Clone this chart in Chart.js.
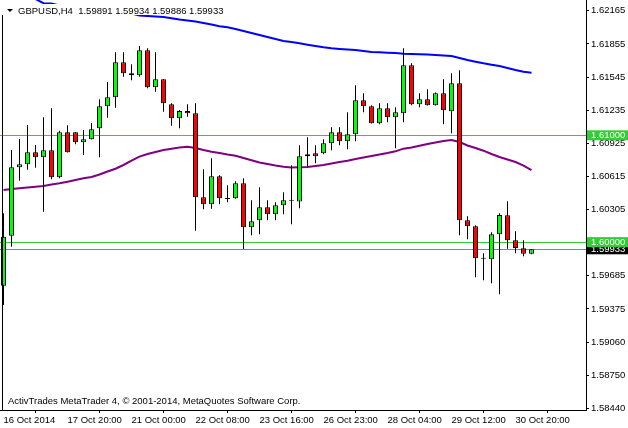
<!DOCTYPE html>
<html>
<head>
<meta charset="utf-8">
<script src="https://cdn.jsdelivr.net/npm/chart.js@4.4.1/dist/chart.umd.min.js"></script>
<style>
  html, body { margin:0; padding:0; background:#fff; }
  #wrap { position:relative; width:628px; height:428px; overflow:hidden; background:#fff; }
  #chart { position:absolute; left:0; top:0; }
  .txt { position:absolute; font-family:'Liberation Sans', Arial, sans-serif; font-size:9.5px; color:#000; white-space:pre; }
  #title { left:0; top:4px; width:222px; height:11px; line-height:11px; background:#fff; }
  #title .tri { position:absolute; left:7px; top:5px; width:0; height:0; border-left:3px solid transparent; border-right:3px solid transparent; border-top:3px solid #000; }
  #title .lbl { position:absolute; left:18px; top:1px; }
  #copy { left:8px; top:395px; line-height:11px; }
  #lborder { position:absolute; left:2px; top:15px; width:1px; height:395px; background:#000; }
</style>
</head>
<body>
<div id="wrap">
  <canvas id="chart" width="628" height="428"></canvas>
  <div id="lborder"></div>
  <div id="title" class="txt"><span class="tri"></span><span class="lbl" id="titleText"></span></div>
  <div id="copy" class="txt">ActivTrades MetaTrader 4, © 2001-2014, MetaQuotes Software Corp.</div>
</div>
<script>
const symbol = 'GBPUSD';
const timeframe = 'H4';

const times = [
  '2014.10.16 12:00','2014.10.16 16:00','2014.10.16 20:00','2014.10.17 00:00','2014.10.17 04:00','2014.10.17 08:00',
  '2014.10.17 12:00','2014.10.17 16:00','2014.10.17 20:00','2014.10.19 23:00','2014.10.20 00:00','2014.10.20 04:00',
  '2014.10.20 08:00','2014.10.20 12:00','2014.10.20 16:00','2014.10.20 20:00','2014.10.21 00:00','2014.10.21 04:00',
  '2014.10.21 08:00','2014.10.21 12:00','2014.10.21 16:00','2014.10.21 20:00','2014.10.22 00:00','2014.10.22 04:00',
  '2014.10.22 08:00','2014.10.22 12:00','2014.10.22 16:00','2014.10.22 20:00','2014.10.23 00:00','2014.10.23 04:00',
  '2014.10.23 08:00','2014.10.23 12:00','2014.10.23 16:00','2014.10.23 20:00','2014.10.24 00:00','2014.10.24 04:00',
  '2014.10.24 08:00','2014.10.24 12:00','2014.10.24 16:00','2014.10.24 20:00','2014.10.26 23:00','2014.10.27 00:00',
  '2014.10.27 04:00','2014.10.27 08:00','2014.10.27 12:00','2014.10.27 16:00','2014.10.27 20:00','2014.10.28 00:00',
  '2014.10.28 04:00','2014.10.28 08:00','2014.10.28 12:00','2014.10.28 16:00','2014.10.28 20:00','2014.10.29 00:00',
  '2014.10.29 04:00','2014.10.29 08:00','2014.10.29 12:00','2014.10.29 16:00','2014.10.29 20:00','2014.10.30 00:00',
  '2014.10.30 04:00','2014.10.30 08:00','2014.10.30 12:00','2014.10.30 16:00','2014.10.30 20:00','2014.10.31 00:00',
  '2014.10.31 04:00'
];

const opens = [
  1.59592,1.60060,1.60701,1.60729,1.60841,1.60794,1.60860,1.60607,1.61028,1.61028,
  1.60934,1.60963,1.61066,1.61271,1.61356,1.61683,1.61580,1.61562,1.61796,1.61449,
  1.61524,1.61290,1.61159,1.61227,1.61206,1.60420,1.60354,1.60616,1.60404,1.60410,
  1.60551,1.60139,1.60204,1.60326,1.60261,1.60345,1.60388,1.60380,1.60803,1.60832,
  1.60832,1.60925,1.61028,1.60944,1.61009,1.61328,1.61271,1.61112,1.61253,1.61169,
  1.61206,1.61655,1.61290,1.61337,1.61281,1.61393,1.61225,1.61487,1.60204,1.60148,
  1.59845,1.59839,1.60073,1.60251,1.60017,1.59942,1.59891
];
const highs = [
  1.60270,1.60862,1.60965,1.61096,1.60909,1.61169,1.61253,1.61043,1.61094,1.61030,
  1.61050,1.61115,1.61337,1.61499,1.61777,1.61777,1.61665,1.61836,1.61814,1.61777,
  1.61527,1.61300,1.61237,1.61290,1.61300,1.60682,1.60785,1.60626,1.60532,1.60569,
  1.60598,1.60392,1.60513,1.60392,1.60373,1.60467,1.60719,1.60906,1.60981,1.60906,
  1.60963,1.61075,1.61075,1.61215,1.61468,1.61393,1.61281,1.61300,1.61300,1.61262,
  1.61814,1.61674,1.61393,1.61431,1.61400,1.61524,1.61580,1.61608,1.60242,1.60158,
  1.59896,1.60092,1.60270,1.60382,1.60101,1.60017,1.59934
];
const lows = [
  1.59412,1.59957,1.60575,1.60678,1.60697,1.60285,1.60588,1.60598,1.60838,1.60916,
  1.60816,1.60960,1.60794,1.61165,1.61258,1.61548,1.61515,1.61548,1.61440,1.61408,
  1.61221,1.61090,1.61066,1.61174,1.60107,1.60307,1.60313,1.60354,1.60373,1.60407,
  1.59936,1.60064,1.60073,1.60204,1.60204,1.60261,1.60167,1.60317,1.60708,1.60738,
  1.60822,1.60860,1.60906,1.60869,1.60944,1.61215,1.61110,1.61103,1.61122,1.60878,
  1.61122,1.61281,1.61262,1.61278,1.61278,1.61103,1.61019,1.60064,1.60027,1.59671,
  1.59643,1.59615,1.59512,1.59939,1.59896,1.59867,1.59886
];
const closes = [
  1.60051,1.60701,1.60729,1.60841,1.60794,1.60860,1.60607,1.61028,1.60841,1.60934,
  1.60963,1.61056,1.61271,1.61356,1.61683,1.61580,1.61562,1.61796,1.61449,1.61524,
  1.61300,1.61159,1.61227,1.61206,1.60420,1.60354,1.60616,1.60410,1.60404,1.60551,
  1.60139,1.60195,1.60326,1.60261,1.60345,1.60392,1.60388,1.60803,1.60822,1.60803,
  1.60925,1.61028,1.60944,1.61009,1.61328,1.61271,1.61112,1.61253,1.61169,1.61215,
  1.61655,1.61290,1.61337,1.61281,1.61393,1.61234,1.61487,1.60204,1.60148,1.59849,
  1.59845,1.60073,1.60254,1.60017,1.59945,1.59891,1.59933
];

const maBlue = [
  1.62379,1.62351,1.62323,1.62294,1.62276,1.62236,1.62233,1.62215,1.62206,1.62196,
  1.62187,1.62178,1.62178,1.62168,1.62159,1.62149,1.62140,1.62121,1.62117,1.62112,
  1.62107,1.62095,1.62084,1.62075,1.62065,1.62051,1.62037,1.62020,1.62011,1.61995,
  1.61976,1.61958,1.61939,1.61920,1.61901,1.61883,1.61873,1.61861,1.61848,1.61836,
  1.61824,1.61814,1.61808,1.61803,1.61798,1.61789,1.61780,1.61777,1.61773,1.61770,
  1.61764,1.61761,1.61758,1.61756,1.61752,1.61747,1.61742,1.61724,1.61705,1.61689,
  1.61674,1.61661,1.61649,1.61630,1.61611,1.61595,1.61586
];
const maPurple = [
  1.60488,1.60497,1.60504,1.60511,1.60518,1.60525,1.60540,1.60551,1.60566,1.60582,
  1.60598,1.60610,1.60633,1.60661,1.60687,1.60722,1.60762,1.60800,1.60825,1.60844,
  1.60862,1.60875,1.60886,1.60893,1.60881,1.60862,1.60847,1.60834,1.60820,1.60809,
  1.60788,1.60766,1.60745,1.60731,1.60717,1.60706,1.60699,1.60701,1.60703,1.60713,
  1.60722,1.60736,1.60750,1.60762,1.60778,1.60792,1.60806,1.60820,1.60834,1.60850,
  1.60875,1.60886,1.60903,1.60919,1.60933,1.60947,1.60956,1.60937,1.60905,1.60881,
  1.60856,1.60825,1.60797,1.60774,1.60750,1.60717,1.60675
];

const yTickValues = [1.62165,1.61855,1.61545,1.61235,1.60925,1.60615,1.60305,1.59685,1.59375,1.59060,1.58750,1.58440];
const levelLines = [1.61000, 1.60000];
const bidPrice = 1.59933;

const xTickIdx = [0,8,16,24,32,40,48,56,64];
const xTickLabels = ['16 Oct 2014','17 Oct 20:00','21 Oct 00:00','22 Oct 08:00','23 Oct 16:00','26 Oct 23:00','28 Oct 04:00','29 Oct 12:00','30 Oct 20:00'];

const BULL = '#00ff00', BEAR = '#ff0000', LEVEL = '#32cd32', BIDLINE = '#778899';

const last = closes.length - 1;
document.getElementById('titleText').textContent =
  symbol + ',' + timeframe + '  ' + [opens[last], highs[last], lows[last], closes[last]].map(v => v.toFixed(5)).join(' ');

const bodyData = times.map((t, i) => ({ x: i, y: [opens[i], closes[i]] }));
const wickData = times.map((t, i) => ({ x: i, y: [lows[i], highs[i]] }));
const bodyColors = times.map((t, i) => closes[i] > opens[i] ? BULL : (closes[i] < opens[i] ? BEAR : '#000'));
const blueData = maBlue.map((v, i) => ({ x: i, y: v }));
const purpleData = maPurple.map((v, i) => ({ x: i, y: v }));

const isLevel = v => levelLines.includes(v);
const isBid = v => v === bidPrice;
const isSpecial = v => isLevel(v) || isBid(v);
const allYTicks = [...yTickValues, bidPrice, ...levelLines];

Chart.defaults.font.family = "'Liberation Sans', Arial, sans-serif";
Chart.defaults.font.size = 9.5;
Chart.defaults.color = '#000';

new Chart(document.getElementById('chart'), {
  type: 'bar',
  data: {
    datasets: [
      { label: 'Bodies', data: bodyData, backgroundColor: bodyColors, borderColor: '#000', borderWidth: 1,
        borderSkipped: false, barThickness: 5, grouped: false, inflateAmount: 0, minBarLength: 1, order: 0 },
      { label: 'Wicks', data: wickData, backgroundColor: '#000', borderWidth: 0, barThickness: 1,
        grouped: false, inflateAmount: 0, order: 1 },
      { type: 'line', label: 'MA blue', data: blueData, borderColor: '#0000ff', borderWidth: 2,
        pointRadius: 0, tension: 0, order: 2 },
      { type: 'line', label: 'MA purple', data: purpleData, borderColor: '#800080', borderWidth: 2,
        pointRadius: 0, tension: 0, order: 3 }
    ]
  },
  options: {
    responsive: false,
    animation: false,
    devicePixelRatio: 1,
    layout: { padding: 0 },
    plugins: { legend: { display: false }, tooltip: { enabled: false } },
    scales: {
      x: {
        type: 'linear', min: -0.4375, max: 72.8125, offset: false,
        afterBuildTicks: s => { s.ticks = xTickIdx.map(v => ({ value: v })); },
        afterFit: s => { s.height = 18; s.paddingLeft = 0; s.paddingRight = 0; },
        grid: { drawOnChartArea: false, drawTicks: true, tickLength: 3, tickColor: '#000' },
        border: { display: true, color: '#000', width: 1 },
        ticks: { autoSkip: false, maxRotation: 0, minRotation: 0, align: 'start', padding: 2, color: '#000',
          callback: (v, i) => xTickLabels[i] }
      },
      y: {
        type: 'linear', position: 'right', min: 1.584288, max: 1.622664,
        afterBuildTicks: s => { s.ticks = allYTicks.map(v => ({ value: v })); },
        afterFit: s => { s.width = 42; s.paddingTop = 0; s.paddingBottom = 0; },
        grid: {
          drawOnChartArea: true, drawTicks: true, tickLength: 3, lineWidth: 1,
          color: c => (c.tick && isLevel(c.tick.value)) ? LEVEL : ((c.tick && isBid(c.tick.value)) ? BIDLINE : 'transparent'),
          tickColor: c => (c.tick && isSpecial(c.tick.value)) ? 'transparent' : '#000'
        },
        border: { display: true, color: '#000', width: 1 },
        ticks: {
          autoSkip: false, padding: 2,
          font: { size: 9.5, lineHeight: 1.05 },
          color: c => (c.tick && isSpecial(c.tick.value)) ? '#fff' : '#000',
          showLabelBackdrop: c => !!(c.tick && isSpecial(c.tick.value)),
          backdropColor: c => (c.tick && isBid(c.tick.value)) ? '#000' : LEVEL,
          backdropPadding: { top: 0, bottom: 0, left: 4, right: 4 },
          callback: v => Number(v).toFixed(5)
        }
      }
    }
  }
});
</script>
</body>
</html>
